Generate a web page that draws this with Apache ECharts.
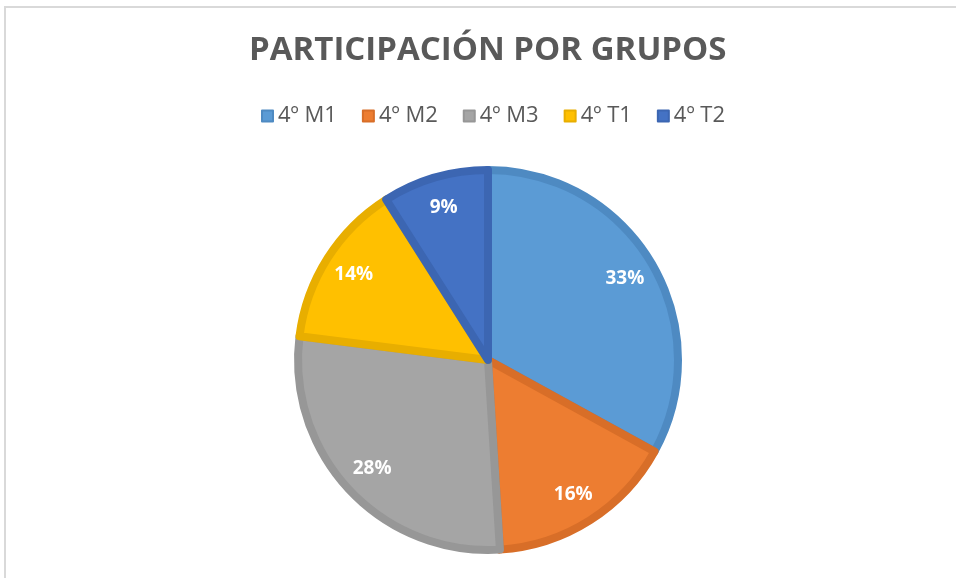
<!DOCTYPE html>
<html>
<head>
<meta charset="utf-8">
<script src="https://cdn.jsdelivr.net/npm/echarts@6/dist/echarts.min.js"></script>
<style>
  html, body { margin: 0; padding: 0; background: #fff; }
  #frame { position: absolute; left: 4px; top: 6px; width: 952px; height: 572px;
           border-left: 2px solid #d9d9d9; border-top: 2px solid #d9d9d9; box-sizing: border-box; }
  #chart { position: absolute; left: 0; top: 0; width: 956px; height: 578px; }
</style>
</head>
<body>
<div id="frame"></div>
<div id="chart"></div>
<script>
const titleText = 'PARTICIPACIÓN POR GRUPOS'
const groups = ['4º M1', '4º M2', '4º M3', '4º T1', '4º T2']
const shares = [33, 16, 28, 14, 9]
const fillColors = ['#5b9bd5', '#ed7d31', '#a5a5a5', '#ffc000', '#4472c4']
const edgeColors = ['#4e8ac2', '#d86e28', '#979797', '#e8ae00', '#3c66b2']

const center = [488, 360]

const chart = echarts.init(document.getElementById('chart'))
chart.setOption({
  animation: false,
  title: {
    text: titleText,
    left: 244,
    top: 29,
    textStyle: { fontFamily: 'Open Sans', fontWeight: 'bold', fontSize: 33, color: '#595959' }
  },
  legend: {
    top: 100,
    left: 256,
    icon: 'rect',
    itemWidth: 11,
    itemHeight: 11,
    itemGap: 25,
    textStyle: { fontFamily: 'Open Sans', fontSize: 22, color: '#595959' },
    data: groups
  },
  series: [
    {
      type: 'pie',
      center: center,
      radius: [0, 190],
      startAngle: 90,
      clockwise: true,
      label: { show: false },
      labelLine: { show: false },
      data: groups.map((g, i) => ({
        name: g,
        value: shares[i],
        itemStyle: { color: fillColors[i], borderColor: edgeColors[i], borderWidth: 8 }
      }))
    },
    {
      // overlay only to place the labels further out
      type: 'pie',
      center: center,
      radius: [118, 194],
      startAngle: 90,
      silent: true,
      legendHoverLink: false,
      itemStyle: { color: 'transparent' },
      label: {
        show: true,
        position: 'inside',
        formatter: '{c}%',
        color: '#fff',
        fontFamily: 'Open Sans',
        fontWeight: 'bold',
        fontSize: 19
      },
      labelLine: { show: false },
      data: groups.map((g, i) => ({ name: g + ' ', value: shares[i] }))
    }
  ]
})
</script>
</body>
</html>
